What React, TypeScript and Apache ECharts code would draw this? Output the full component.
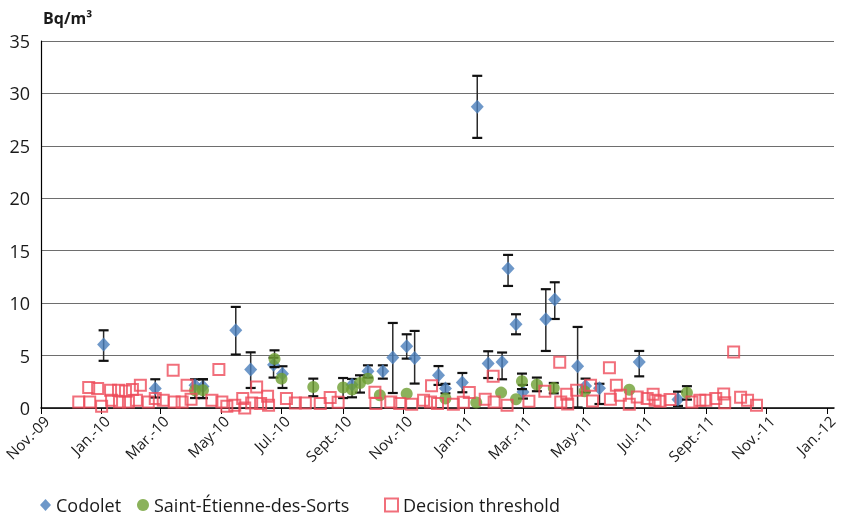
import React, { useEffect, useRef } from "react";
import * as echarts from "echarts";

const tickDates = ["2009-11-01","2010-01-01","2010-03-01","2010-05-01","2010-07-01","2010-09-01","2010-11-01","2011-01-01","2011-03-01","2011-05-01","2011-07-01","2011-09-01","2011-11-01","2012-01-01"];
const tickLabels = ["Nov.-09","Jan.-10","Mar.-10","May-10","Jul.-10","Sept.-10","Nov.-10","Jan.-11","Mar.-11","May-11","Jul.-11","Sept.-11","Nov.-11","Jan.-12"];

const codoletDates = ["2010-01-03","2010-02-24","2010-04-05","2010-04-13","2010-05-16","2010-05-31","2010-06-23","2010-07-02","2010-09-10","2010-09-26","2010-10-11","2010-10-21","2010-11-04","2010-11-12","2010-12-06","2010-12-13","2010-12-30","2011-01-14","2011-01-25","2011-02-08","2011-02-14","2011-02-22","2011-03-01","2011-03-24","2011-04-02","2011-04-25","2011-05-03","2011-05-17","2011-06-26","2011-08-04"];
const codoletValues = [6.05,1.85,2.17,2.05,7.41,3.66,4.12,3.26,2.21,3.5,3.5,4.81,5.89,4.77,3.12,1.85,2.42,28.72,4.24,4.39,13.3,7.99,1.53,8.46,10.34,3.98,2.1,1.88,4.39,0.81];
const codoletLow = [4.5,1.0,0.95,0.95,5.1,1.91,2.9,1.91,1.02,2.9,2.8,1.43,4.71,2.33,2.2,1.4,1.5,25.76,2.86,2.74,11.64,7.03,0.9,5.44,8.49,0.05,1.5,0.38,3.02,0.2];
const codoletHigh = [7.41,2.74,2.74,2.74,9.64,5.31,4.8,3.98,2.77,4.07,4.07,8.11,7.03,7.35,4.0,2.3,3.34,31.68,5.41,5.29,14.6,8.94,2.2,11.33,11.99,7.73,2.8,2.31,5.44,1.56];

const stEtienneDates = ["2010-04-05","2010-04-13","2010-06-24","2010-07-01","2010-08-02","2010-09-01","2010-09-10","2010-09-18","2010-09-26","2010-10-08","2010-11-04","2010-12-13","2011-01-13","2011-02-07","2011-02-22","2011-02-28","2011-03-15","2011-04-01","2011-05-02","2011-06-16","2011-08-13"];
const stEtienneValues = [1.69,1.69,4.68,2.8,2.0,1.95,1.76,2.39,2.8,1.21,1.37,0.9,0.52,1.47,0.83,2.55,2.23,1.91,1.59,1.74,1.45];
const stEtienneLow = [null,0.95,3.9,null,1.12,0.95,null,1.47,null,null,null,null,null,null,null,1.8,1.6,1.4,null,null,0.8];
const stEtienneHigh = [null,2.74,5.5,null,2.8,2.86,null,3.12,null,null,null,null,null,null,null,3.28,2.9,2.39,null,null,2.08];

const thresholdDates = ["2009-12-09","2009-12-19","2009-12-20","2009-12-28","2010-01-01","2010-01-10","2010-01-11","2010-01-18","2010-01-19","2010-01-25","2010-01-28","2010-02-01","2010-02-05","2010-02-09","2010-02-17","2010-02-24","2010-03-04","2010-03-14","2010-03-15","2010-03-23","2010-03-28","2010-04-01","2010-04-22","2010-04-29","2010-05-02","2010-05-07","2010-05-15","2010-05-23","2010-05-25","2010-06-01","2010-06-06","2010-06-10","2010-06-17","2010-06-18","2010-07-06","2010-07-15","2010-07-25","2010-08-09","2010-08-19","2010-08-27","2010-10-03","2010-10-04","2010-10-19","2010-10-28","2010-11-09","2010-11-21","2010-11-28","2010-11-29","2010-12-05","2010-12-21","2010-12-31","2011-01-06","2011-01-22","2011-01-30","2011-01-31","2011-02-13","2011-03-07","2011-03-23","2011-04-07","2011-04-08","2011-04-14","2011-04-15","2011-04-24","2011-05-08","2011-05-10","2011-05-27","2011-05-28","2011-06-03","2011-06-07","2011-06-16","2011-06-24","2011-07-04","2011-07-10","2011-07-12","2011-07-17","2011-07-27","2011-08-18","2011-08-26","2011-09-01","2011-09-11","2011-09-19","2011-09-20","2011-09-29","2011-10-06","2011-10-13","2011-10-22"];
const thresholdValues = [0.57,1.95,0.57,1.85,0.16,1.69,0.73,1.69,0.57,1.62,0.57,1.76,0.73,2.17,0.57,0.9,0.73,3.6,0.57,0.57,2.17,0.83,0.73,3.66,0.57,0.16,0.26,0.9,0.0,0.48,2.0,0.42,1.12,0.26,0.9,0.48,0.48,0.42,0.99,0.54,1.5,0.42,0.57,0.42,0.35,0.73,0.57,2.12,0.42,0.35,0.54,1.48,0.83,3.02,0.57,0.26,0.64,1.59,4.36,0.57,1.31,0.37,1.69,2.17,0.66,3.85,0.83,2.17,1.21,0.35,1.05,0.9,1.31,0.73,0.64,0.8,0.57,0.73,0.73,0.9,1.34,0.5,5.34,1.02,0.73,0.26];

const toTs = (s: string) => {
  const [y, m, d] = s.split("-").map(Number);
  return Date.UTC(y, m - 1, d);
};

const FONT = "'Open Sans', 'Noto Sans', sans-serif";
const TEXT = "#1a1a1a";
const BLUE = "#4A7EBB";
const GREEN = "#6E9F32";
const RED = "#EE4B5A";

function errData(dates: string[], lo: (number | null)[], hi: (number | null)[]) {
  const out: number[][] = [];
  dates.forEach((d, i) => {
    if (lo[i] != null && hi[i] != null) out.push([toTs(d), lo[i] as number, hi[i] as number]);
  });
  return out;
}

function errorRender(params: any, api: any) {
  const x = api.value(0);
  const top = api.coord([x, api.value(2)]);
  const bot = api.coord([x, api.value(1)]);
  const w = 5;
  return {
    type: "group",
    children: [
      { type: "line", shape: { x1: top[0], y1: top[1], x2: bot[0], y2: bot[1] }, style: { stroke: "#2a2a2a", lineWidth: 1.5 } },
      { type: "line", shape: { x1: top[0] - w, y1: top[1], x2: top[0] + w, y2: top[1] }, style: { stroke: "#111", lineWidth: 2.2 } },
      { type: "line", shape: { x1: bot[0] - w, y1: bot[1], x2: bot[0] + w, y2: bot[1] }, style: { stroke: "#111", lineWidth: 2.2 } },
    ],
  };
}

const legendText = { fontFamily: FONT, fontSize: 18, lineHeight: 18, color: TEXT };

export default function App() {
  const ref = useRef<HTMLDivElement>(null);
  useEffect(() => {
    if (!ref.current) return;
    const chart = echarts.init(ref.current, null, { renderer: "svg" });
    const tickTs = tickDates.map(toTs);
    const labelFor = (v: number) => {
      let best = 0;
      let bd = Infinity;
      tickTs.forEach((t, i) => {
        const dd = Math.abs(t - v);
        if (dd < bd) { bd = dd; best = i; }
      });
      return tickLabels[best];
    };
    const option: any = {
      animation: false,
      textStyle: { fontFamily: FONT, color: TEXT },
      title: {
        text: "Bq/m³",
        left: 38,
        top: 5,
        textStyle: { fontFamily: FONT, fontSize: 16, fontWeight: "bold", color: TEXT },
      },
      grid: { left: 41, right: 9, top: 41, bottom: 109, containLabel: false, outerBoundsMode: "none" },
      legend: [
        {
          data: [{ name: "Codolet", icon: "diamond" }],
          left: 40, top: 496, padding: 0, itemWidth: 11, itemHeight: 12, itemGap: 0,
          textStyle: legendText,
        },
        {
          data: [{ name: "Saint-Étienne-des-Sorts", icon: "circle" }],
          left: 137, top: 496, padding: 0, itemWidth: 12, itemHeight: 12, itemGap: 0,
          textStyle: legendText,
        },
        {
          data: [{ name: "Decision threshold", icon: "rect" }],
          left: 384, top: 496, padding: 0, itemWidth: 13, itemHeight: 13, itemGap: 0,
          textStyle: legendText,
        },
      ],
      xAxis: {
        type: "value",
        min: toTs("2009-11-01"),
        max: toTs("2012-01-08"),
        splitLine: { show: false },
        axisLine: { show: true, onZero: false, lineStyle: { color: "#000", width: 1.5 } },
        axisTick: { show: true, customValues: tickTs, length: 6, lineStyle: { color: "#000", width: 1 } },
        axisLabel: {
          customValues: tickTs,
          rotate: 45,
          margin: 5,
          align: "right",
          verticalAlign: "top",
          fontFamily: FONT,
          fontSize: 15,
          color: TEXT,
          showMinLabel: true,
          showMaxLabel: true,
          formatter: (v: number) => labelFor(v),
        },
      },
      yAxis: {
        type: "value",
        min: 0,
        max: 35,
        interval: 5,
        axisLine: { show: true, lineStyle: { color: "#000", width: 1.2 } },
        axisTick: { show: false },
        axisLabel: { fontFamily: FONT, fontSize: 18, color: TEXT, margin: 11 },
        splitLine: { show: true, lineStyle: { color: "#6e6e6e", width: 1 } },
      },
      series: [
        {
          name: "codoletErr",
          type: "custom",
          renderItem: errorRender,
          encode: { x: 0, y: [1, 2] },
          data: errData(codoletDates, codoletLow, codoletHigh),
          z: 2,
          silent: true,
        },
        {
          name: "Codolet",
          type: "scatter",
          symbol: "diamond",
          symbolSize: [13, 14],
          itemStyle: { color: BLUE },
          data: codoletDates.map((d, i) => [toTs(d), codoletValues[i]]),
          z: 3,
        },
        {
          name: "stEtienneErr",
          type: "custom",
          renderItem: errorRender,
          encode: { x: 0, y: [1, 2] },
          data: errData(stEtienneDates, stEtienneLow, stEtienneHigh),
          z: 4,
          silent: true,
        },
        {
          name: "Saint-Étienne-des-Sorts",
          type: "scatter",
          symbol: "circle",
          symbolSize: 12,
          itemStyle: { color: GREEN },
          data: stEtienneDates.map((d, i) => [toTs(d), stEtienneValues[i]]),
          z: 5,
        },
        {
          name: "Decision threshold",
          type: "scatter",
          symbol: "rect",
          symbolSize: 11,
          itemStyle: { color: "rgba(255,255,255,0)", borderColor: RED, borderWidth: 2 },
          data: thresholdDates.map((d, i) => [toTs(d), thresholdValues[i]]),
          z: 6,
        },
      ],
    };
    chart.setOption(option);
    return () => chart.dispose();
  }, []);
  return <div ref={ref} style={{ position: "fixed", left: 0, top: 0, width: 843, height: 517 }} />;
}
